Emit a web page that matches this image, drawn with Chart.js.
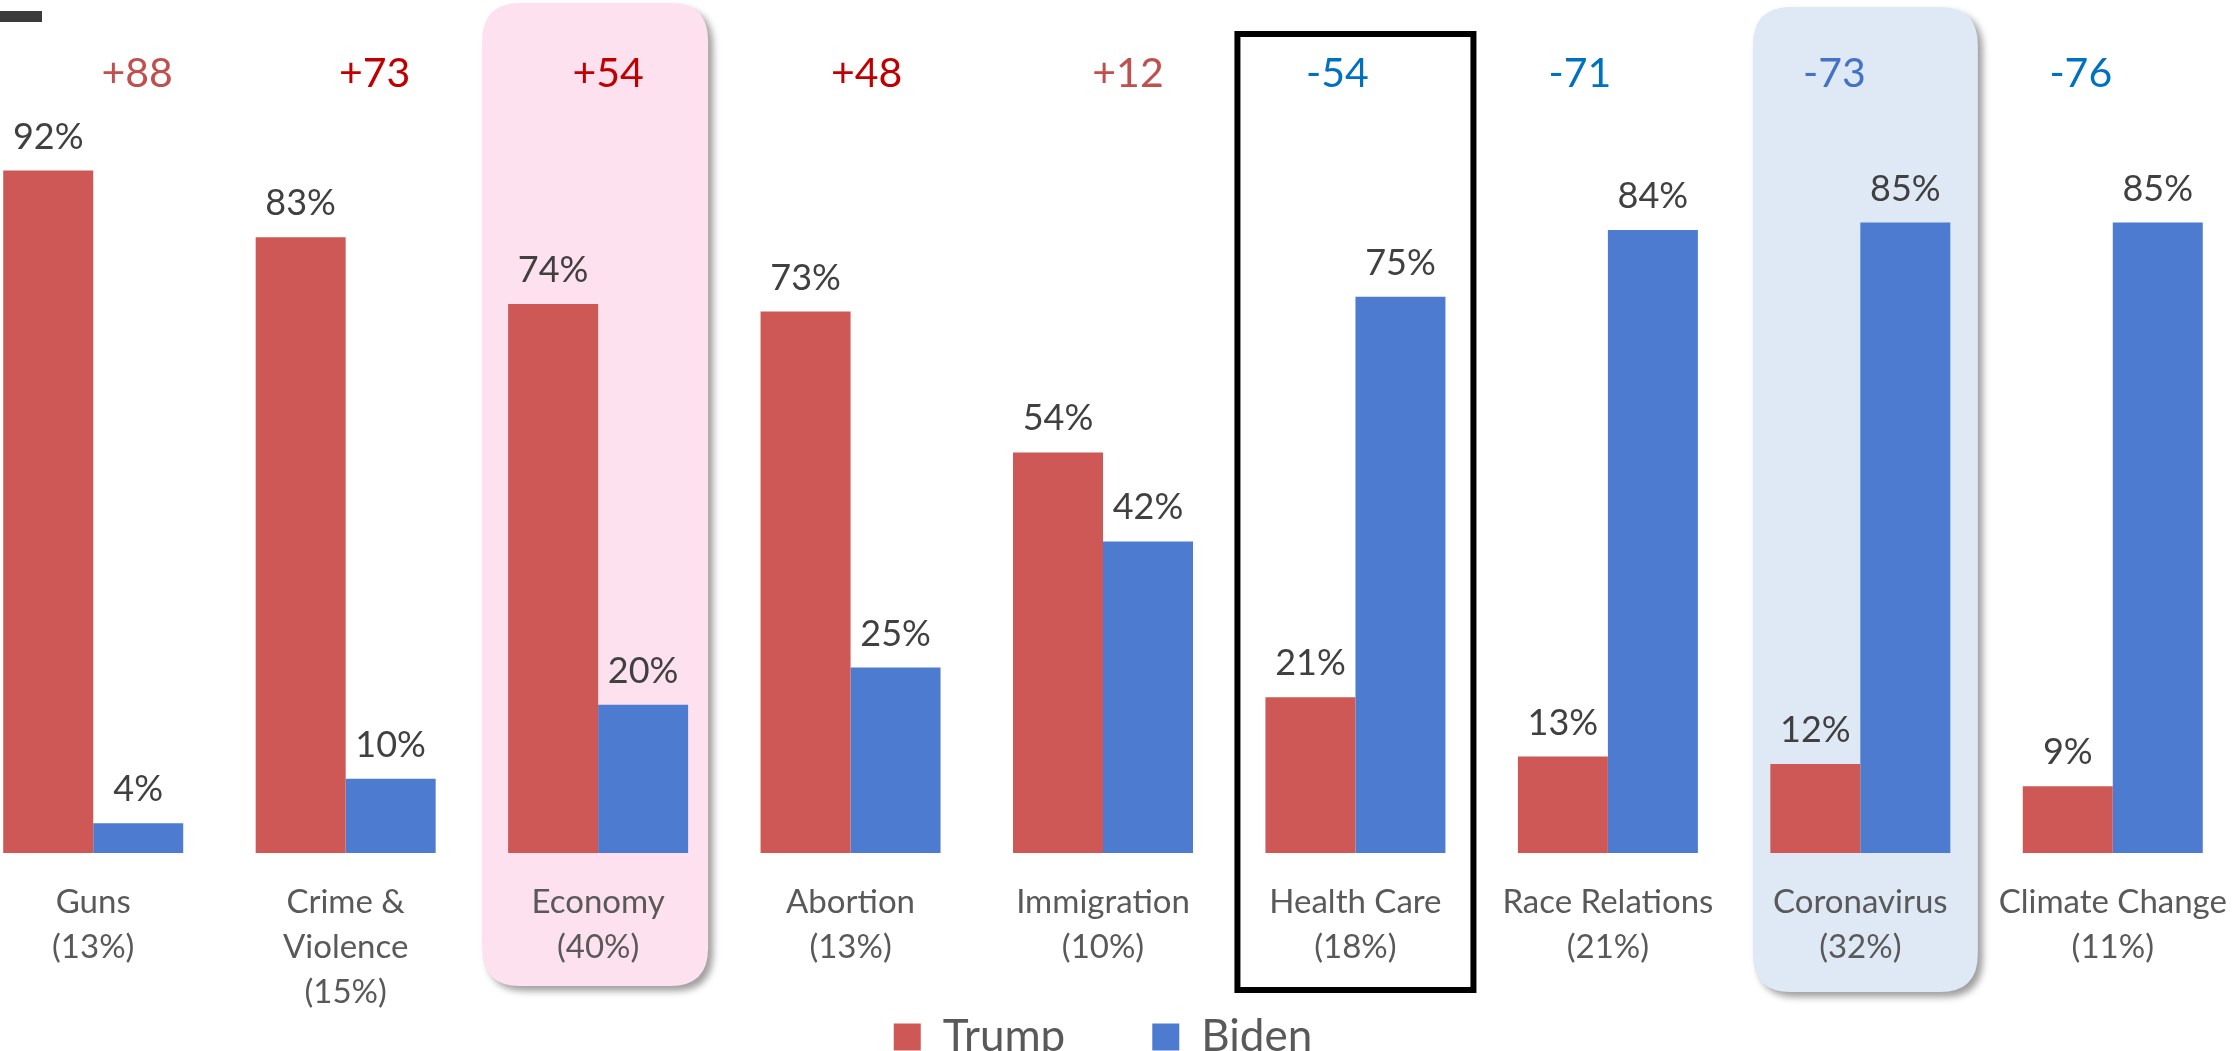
<!DOCTYPE html>
<html>
<head>
<meta charset="utf-8">
<title>Trump vs Biden by top issue</title>
<script src="https://cdn.jsdelivr.net/npm/chart.js@4.4.0/dist/chart.umd.min.js"></script>
<style>
html,body{margin:0;padding:0;background:#fff;overflow:hidden;width:2234px;height:1051px;}
/* chart area starts a bit left of the page, like the cropped original */
#wrap{position:absolute;left:-33px;top:0;width:2272px;height:1159px;}
</style>
</head>
<body>
<div id="wrap"><canvas id="issueChart"></canvas></div>
<script>
//议题
var issues=["Guns","Crime &\nViolence","Economy","Abortion","Immigration","Health Care","Race Relations","Coronavirus","Climate Change"];
//share of voters naming the issue
var issueShare=[13,15,40,13,10,18,21,32,11];
//support
var trumpVals=[92,83,74,73,54,21,13,12,9];
var bidenVals=[4,10,20,25,42,75,84,85,85];
//margin shown on top
var margins=[88,73,54,48,12,-54,-71,-73,-76];

var FONT="Lato, 'Open Sans', sans-serif";
var TRUMP_COLOR="#CD5855";
var BIDEN_COLOR="#4D7BD0";

//margin label colours and nudges (px from category centre)
var marginColors=["#C0504D","#C00000","#C00000","#C00000","#C0504D","#0070C0","#0070C0","#4472C4","#0070C0"];
var marginNudge=[44,29,10,16,25,-18,-28,-26,-32];

//highlight boxes behind some categories
var highlightBoxes=[
	{index:2,fill:"#FDE1EF",dx:-3,width:226,top:3,bottom:986},
	{index:7,fill:"#DEE9F5",dx:5,width:225,top:7,bottom:992},
	{index:5,stroke:"#000",dx:0,width:236,top:34,bottom:990,lineWidth:6}
];

//legend sits right under the labels, closer than chart.js puts it
var LEGEND_SHIFT=-90;

//tick labels: name lines + share line
var tickLabels=issues.map(function(name,i){
	return name.split("\n").concat(["("+issueShare[i]+"%)"]);
});

var roundRectPath=function(ctx,x,y,w,h,r){
	ctx.beginPath();
	ctx.moveTo(x+r,y);
	ctx.lineTo(x+w-r,y);
	ctx.quadraticCurveTo(x+w,y,x+w,y+r);
	ctx.lineTo(x+w,y+h-r);
	ctx.quadraticCurveTo(x+w,y+h,x+w-r,y+h);
	ctx.lineTo(x+r,y+h);
	ctx.quadraticCurveTo(x,y+h,x,y+h-r);
	ctx.lineTo(x,y+r);
	ctx.quadraticCurveTo(x,y,x+r,y);
	ctx.closePath();
};

//boxes drawn first, under ticks and bars
var highlightPlugin={
	id:"highlights",
	afterLayout:function(chart){
		chart.legend.top+=LEGEND_SHIFT;
		chart.legend.bottom+=LEGEND_SHIFT;
	},
	beforeDraw:function(chart){
		var ctx=chart.ctx;
		var xs=chart.scales.x;
		ctx.save();
		highlightBoxes.forEach(function(b){
			var cx=xs.getPixelForValue(b.index)+b.dx;
			var left=cx-b.width/2;
			if(b.fill){
				ctx.save();
				ctx.shadowColor="rgba(0,0,0,0.38)";
				ctx.shadowBlur=7;
				ctx.shadowOffsetX=5;
				ctx.shadowOffsetY=5;
				roundRectPath(ctx,left,b.top,b.width,b.bottom-b.top,38);
				ctx.fillStyle=b.fill;
				ctx.fill();
				ctx.restore();
			}else{
				ctx.lineWidth=b.lineWidth;
				ctx.strokeStyle=b.stroke;
				ctx.strokeRect(left,b.top,b.width,b.bottom-b.top);
			}
		});
		//small dark mark top-left
		ctx.fillStyle="#3B3B3B";
		ctx.fillRect(33,11,42,11);
		ctx.restore();
	}
};

//value labels + margins
var labelPlugin={
	id:"valueLabels",
	afterDatasetsDraw:function(chart){
		var ctx=chart.ctx;
		var xs=chart.scales.x;
		ctx.save();
		ctx.textAlign="center";
		ctx.textBaseline="alphabetic";
		ctx.font="36px "+FONT;
		ctx.fillStyle="#404040";
		chart.data.datasets.forEach(function(ds,di){
			chart.getDatasetMeta(di).data.forEach(function(bar,i){
				ctx.fillText(ds.data[i]+"%",bar.x,bar.y-22);
			});
		});
		ctx.font="41px "+FONT;
		margins.forEach(function(m,i){
			ctx.fillStyle=marginColors[i];
			var txt=(m>0?"+":"")+m;
			ctx.fillText(txt,xs.getPixelForValue(i)+marginNudge[i],87);
		});
		ctx.restore();
	}
};

var ctx=document.getElementById("issueChart").getContext("2d");
var issueChart=new Chart(ctx,{
	type:"bar",
	data:{
		labels:tickLabels,
		datasets:[
			{label:"Trump",data:trumpVals,backgroundColor:TRUMP_COLOR,borderWidth:0,categoryPercentage:0.713,barPercentage:1},
			{label:"Biden",data:bidenVals,backgroundColor:BIDEN_COLOR,borderWidth:0,categoryPercentage:0.713,barPercentage:1}
		]
	},
	options:{
		responsive:true,
		maintainAspectRatio:false,
		animation:false,
		events:[],
		layout:{padding:0},
		plugins:{
			legend:{
				position:"bottom",
				labels:{
					color:"#595959",
					font:{family:FONT,size:44},
					boxWidth:27,
					boxHeight:27,
					padding:87
				}
			},
			tooltip:{enabled:false},
			title:{display:false}
		},
		scales:{
			x:{
				grid:{display:false,drawTicks:false},
				border:{display:false},
				ticks:{
					color:"#595959",
					font:{family:FONT,size:33,lineHeight:"45px"},
					padding:27,
					maxRotation:0,
					autoSkip:false
				},
				afterFit:function(scale){
					//fixed label band, and no side padding for long labels
					scale.height=165;
					scale.paddingLeft=0;
					scale.paddingRight=0;
				}
			},
			y:{
				display:false,
				min:0,
				max:115
			}
		}
	},
	plugins:[highlightPlugin,labelPlugin]
});
</script>
</body>
</html>
